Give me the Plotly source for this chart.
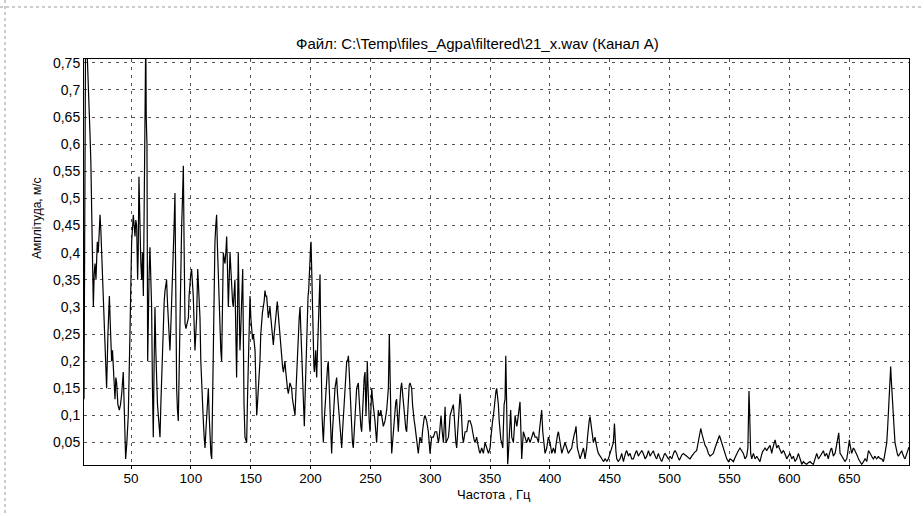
import plotly.graph_objects as go

# ---------------- data ----------------
title_text = "Файл: C:\\Temp\\files_Agpa\\filtered\\21_x.wav (Канал A)"
x_title = "Частота , Гц"
y_title = "Амплітуда, м/с"

x_tick_vals = [50, 100, 150, 200, 250, 300, 350, 400, 450, 500, 550, 600, 650]
x_tick_text = ["50", "100", "150", "200", "250", "300", "350", "400", "450", "500", "550", "600", "650"]
y_tick_vals = [0.05, 0.1, 0.15, 0.2, 0.25, 0.3, 0.35, 0.4, 0.45, 0.5, 0.55, 0.6, 0.65, 0.7, 0.75]
y_tick_text = ["0,05", "0,1", "0,15", "0,2", "0,25", "0,3", "0,35", "0,4", "0,45", "0,5",
               "0,55", "0,6", "0,65", "0,7", "0,75"]

freq_low = [
    10.7, 11.3, 12.0, 13.0, 14.3, 15.0, 15.7, 16.4, 17.1, 17.8,
    18.5, 19.2, 19.9, 20.7, 21.8, 22.6, 23.5, 24.1, 24.8, 25.5,
    26.2, 26.8, 27.7, 28.8, 29.6, 30.7, 31.9, 32.8, 33.8, 34.5,
    35.2, 36.6, 37.3, 38.0, 39.0, 40.2, 41.2, 42.2, 43.5, 44.3,
    44.9, 45.5, 46.5, 47.7, 49.1, 50.5, 51.9, 52.6, 53.3, 54.0,
    54.7, 55.5, 56.0, 56.6, 57.5, 58.2, 58.9, 59.6, 60.3, 61.0,
    61.7, 62.3, 62.7, 63.3, 63.9, 64.4, 65.1, 65.8, 66.5, 67.2,
    67.9, 68.6, 69.3, 70.0, 70.7, 71.4, 72.1, 72.8, 73.5, 74.2,
    74.9, 75.6, 76.3, 77.0, 77.7, 78.4, 79.0, 79.7, 80.4, 81.1,
    81.8, 82.5, 83.2, 83.9, 84.6, 85.3, 86.0, 86.7, 87.4, 88.1,
    88.8, 89.5, 90.2, 90.9, 91.6, 92.3, 93.0, 93.7, 94.4, 95.1,
    95.9, 96.9, 97.9, 98.5, 99.2, 99.9, 100.6, 101.3, 102.0, 102.7,
    103.4, 104.1, 104.8, 105.7, 106.6, 107.6, 108.3, 109.0, 109.7, 110.4,
    111.1, 111.8, 112.5, 113.2, 113.9, 114.6, 115.3, 116.0, 116.7, 117.4,
    118.0, 118.7, 119.4, 120.1, 120.8, 121.5, 122.2, 122.9, 123.6, 124.3,
    125.0, 125.7, 126.4, 127.1, 127.8, 128.5, 129.2, 129.9, 130.6, 131.3,
    132.0, 132.7, 133.4, 134.1, 134.8, 135.4, 136.1, 136.8, 137.5, 138.2,
    138.9, 139.6, 140.3, 141.0, 141.7, 142.4, 143.3, 144.4, 145.2, 145.9,
    146.6, 147.3, 148.0, 148.7, 149.4, 150.1, 150.8, 151.5, 152.2, 152.9,
    153.6, 154.3, 155.0, 155.6, 156.3, 157.0, 157.7, 158.4, 159.1, 159.8,
]
amp_low = [
    0.13, 0.50, 0.80, 0.79, 0.72, 0.68, 0.62, 0.57, 0.50, 0.40,
    0.30, 0.36, 0.38, 0.35, 0.42, 0.40, 0.45, 0.47, 0.44, 0.40,
    0.34, 0.30, 0.245, 0.20, 0.15, 0.25, 0.32, 0.26, 0.20, 0.22,
    0.19, 0.13, 0.17, 0.16, 0.12, 0.11, 0.12, 0.14, 0.18, 0.12,
    0.08, 0.02, 0.05, 0.10, 0.25, 0.42, 0.47, 0.44, 0.43, 0.46,
    0.45, 0.35, 0.40, 0.54, 0.42, 0.38, 0.35, 0.40, 0.32, 0.45,
    0.60, 0.80, 0.65, 0.60, 0.20, 0.30, 0.36, 0.41, 0.35, 0.30,
    0.15, 0.06, 0.20, 0.30, 0.22, 0.15, 0.12, 0.10, 0.08, 0.06,
    0.12, 0.18, 0.24, 0.28, 0.31, 0.33, 0.34, 0.35, 0.31, 0.28,
    0.24, 0.22, 0.26, 0.30, 0.34, 0.38, 0.45, 0.51, 0.30, 0.15,
    0.11, 0.09, 0.18, 0.30, 0.38, 0.45, 0.50, 0.56, 0.40, 0.27,
    0.26, 0.27, 0.28, 0.32, 0.35, 0.36, 0.37, 0.35, 0.32, 0.27,
    0.22, 0.25, 0.28, 0.37, 0.33, 0.28, 0.20, 0.15, 0.12, 0.09,
    0.06, 0.04, 0.07, 0.10, 0.13, 0.15, 0.10, 0.05, 0.03, 0.02,
    0.12, 0.25, 0.34, 0.42, 0.45, 0.47, 0.41, 0.35, 0.30, 0.25,
    0.22, 0.20, 0.30, 0.40, 0.39, 0.38, 0.40, 0.43, 0.37, 0.30,
    0.35, 0.40, 0.37, 0.33, 0.31, 0.30, 0.32, 0.35, 0.26, 0.17,
    0.28, 0.40, 0.31, 0.22, 0.26, 0.30, 0.37, 0.12, 0.06, 0.055,
    0.05, 0.13, 0.22, 0.27, 0.32, 0.28, 0.25, 0.24, 0.25, 0.23,
    0.22, 0.16, 0.10, 0.12, 0.15, 0.16, 0.20, 0.25, 0.28, 0.29,
]

freq_mid = [
    160.5, 161.2, 161.9, 162.6, 163.3, 164.0, 164.7, 165.4, 166.1, 166.8,
    167.5, 168.2, 168.9, 169.6, 170.3, 171.2, 172.2, 172.9, 173.6, 174.3,
    175.0, 175.9, 176.6, 177.3, 178.0, 178.6, 179.3, 180.0, 180.7, 181.4,
    182.1, 182.8, 183.5, 184.2, 184.9, 185.6, 186.3, 187.0, 187.7, 188.4,
    189.1, 189.8, 190.5, 191.2, 191.9, 192.6, 193.3, 194.0, 194.8, 195.5,
    196.2, 196.8, 197.3, 197.9, 198.4, 199.0, 199.5, 200.0, 200.4, 200.8,
    201.2, 201.8, 202.3, 202.8, 203.2, 203.8, 204.3, 204.7, 205.1, 205.8,
    206.5, 207.2, 207.9, 208.3, 208.7, 209.2, 209.6, 210.2, 210.7, 211.4,
    212.1, 212.8, 213.5, 214.2, 214.8, 215.3, 215.7, 216.2, 216.8, 217.2,
    217.6, 218.3, 219.0, 219.7, 220.4, 221.1, 221.8, 222.5, 223.2, 223.9,
    224.6, 225.3, 226.0, 226.7, 227.4, 228.1, 228.8, 229.5, 230.2, 230.9,
    231.6, 232.3, 233.0, 233.7, 234.3, 235.0, 235.7, 236.4, 237.1, 237.8,
    238.5, 239.2, 239.9, 240.6, 241.3, 242.0, 242.7, 243.4, 244.1, 244.8,
    245.5, 246.3, 246.9, 247.4, 247.9, 248.3, 249.0, 249.7, 250.4, 251.1,
    251.8, 252.4, 253.1, 253.8, 254.5, 255.2, 255.9, 256.6, 257.3, 258.0,
    258.7, 259.4, 260.1, 260.8, 261.5, 262.2, 262.9, 263.6, 264.3, 265.0,
    265.8, 266.4, 266.9, 267.4, 267.8, 268.5, 269.2, 269.9, 270.5, 271.2,
    271.9, 272.6, 273.3, 274.0, 274.7, 275.4, 276.1, 276.8, 277.5, 278.2,
    278.9, 279.6, 280.3, 281.0, 281.7, 282.4, 283.1, 283.8, 284.5, 285.2,
    285.9, 286.6, 287.3, 288.0, 288.7, 289.4, 290.0, 290.7, 291.4, 292.1,
    292.8, 293.5, 294.2, 294.9, 295.6, 296.3, 297.0, 297.7, 298.4, 299.1,
    299.8, 300.5, 301.2, 302.6, 303.3, 304.0, 305.4, 306.1, 306.8, 307.5,
]
amp_mid = [
    0.30, 0.31, 0.33, 0.32, 0.32, 0.30, 0.28, 0.29, 0.30, 0.28,
    0.26, 0.25, 0.23, 0.25, 0.27, 0.29, 0.31, 0.29, 0.27, 0.25,
    0.24, 0.20, 0.19, 0.18, 0.19, 0.20, 0.18, 0.16, 0.15, 0.14,
    0.15, 0.16, 0.155, 0.15, 0.13, 0.12, 0.11, 0.10, 0.14, 0.18,
    0.22, 0.25, 0.28, 0.30, 0.25, 0.20, 0.15, 0.12, 0.08, 0.14,
    0.20, 0.26, 0.30, 0.32, 0.33, 0.37, 0.40, 0.41, 0.42, 0.37,
    0.32, 0.25, 0.20, 0.19, 0.18, 0.20, 0.22, 0.19, 0.17, 0.22,
    0.28, 0.32, 0.36, 0.28, 0.20, 0.15, 0.10, 0.07, 0.05, 0.09,
    0.12, 0.15, 0.18, 0.19, 0.20, 0.17, 0.15, 0.11, 0.08, 0.05,
    0.03, 0.07, 0.10, 0.13, 0.15, 0.16, 0.17, 0.14, 0.12, 0.09,
    0.07, 0.05, 0.04, 0.07, 0.10, 0.13, 0.15, 0.18, 0.20, 0.20,
    0.21, 0.18, 0.15, 0.10, 0.07, 0.05, 0.04, 0.07, 0.10, 0.13,
    0.15, 0.155, 0.16, 0.13, 0.10, 0.08, 0.07, 0.11, 0.15, 0.17,
    0.18, 0.10, 0.15, 0.20, 0.16, 0.12, 0.09, 0.07, 0.11, 0.15,
    0.13, 0.12, 0.10, 0.09, 0.07, 0.05, 0.08, 0.11, 0.10, 0.10,
    0.11, 0.10, 0.09, 0.08, 0.085, 0.09, 0.10, 0.11, 0.13, 0.15,
    0.25, 0.15, 0.10, 0.06, 0.03, 0.05, 0.07, 0.10, 0.12, 0.125,
    0.13, 0.10, 0.07, 0.10, 0.14, 0.15, 0.16, 0.14, 0.12, 0.10,
    0.08, 0.075, 0.07, 0.11, 0.15, 0.155, 0.16, 0.155, 0.15, 0.12,
    0.10, 0.09, 0.08, 0.065, 0.05, 0.04, 0.03, 0.045, 0.06, 0.055,
    0.05, 0.07, 0.09, 0.095, 0.10, 0.095, 0.09, 0.08, 0.07, 0.05,
    0.03, 0.045, 0.06, 0.06, 0.065, 0.07, 0.07, 0.06, 0.05, 0.06,
]

freq_high = [
    308.2, 309.0, 310.0, 311.0, 312.4, 313.2, 314.2, 315.2, 316.0, 316.6,
    317.9, 319.3, 320.0, 320.7, 321.4, 322.1, 322.8, 323.5, 324.2, 324.9,
    325.7, 326.3, 327.0, 327.7, 328.4, 329.1, 330.5, 331.2, 331.9, 333.3,
    334.0, 334.7, 335.4, 336.0, 336.7, 337.4, 338.1, 338.8, 339.5, 340.2,
    340.9, 341.6, 342.3, 343.0, 343.7, 344.4, 345.1, 345.8, 346.5, 347.2,
    347.9, 348.6, 349.3, 350.0, 350.7, 351.4, 352.1, 352.8, 353.5, 354.2,
    354.9, 355.5, 356.2, 356.9, 357.6, 358.3, 359.0, 359.7, 360.6, 361.7,
    362.5, 363.1, 363.9, 364.7, 365.3, 365.9, 366.6, 367.2, 368.1, 368.8,
    369.5, 370.2, 370.9, 371.6, 372.3, 373.0, 373.6, 374.3, 375.0, 375.9,
    376.4, 377.1, 377.8, 378.5, 379.2, 379.9, 380.6, 381.3, 382.0, 382.7,
    383.4, 384.1, 384.8, 385.5, 386.2, 386.9, 387.6, 389.0, 389.7, 390.4,
    391.1, 391.8, 392.5, 393.1, 394.0, 394.5, 395.1, 395.9, 396.6, 397.3,
    398.0, 398.7, 399.4, 400.1, 400.8, 401.5, 402.2, 402.9, 403.6, 404.3,
    405.0, 405.7, 406.4, 407.1, 407.8, 408.5, 409.2, 409.9, 410.5, 411.2,
    411.9, 412.6, 413.3, 414.0, 414.7, 415.4, 416.1, 416.8, 417.5, 418.2,
    418.9, 419.6, 420.3, 421.0, 421.8, 422.9, 423.8, 424.5, 425.2, 425.9,
    426.6, 427.3, 428.0, 428.7, 429.3, 430.0, 430.7, 431.4, 432.1, 432.8,
    433.5, 434.2, 434.9, 435.6, 436.3, 437.0, 437.7, 438.4, 439.1, 439.8,
    440.5, 441.2, 441.9, 442.6, 443.3, 444.0, 444.7, 445.4, 446.1, 446.8,
    447.5, 448.2, 448.8, 449.5, 450.2, 450.9, 451.6, 452.3, 453.0, 453.9,
    454.4, 455.1, 455.8, 456.5, 457.2, 457.9, 458.6, 459.3, 460.0, 460.7,
    461.4, 462.1, 462.8, 463.5, 464.2, 464.9, 465.6, 466.2, 466.9, 467.6,
    468.3, 469.7, 470.4, 471.1, 471.8, 472.5, 473.2, 473.9, 474.6, 475.3,
    476.0, 476.7, 477.4, 478.1, 478.8, 479.5, 480.2, 480.9, 481.6, 482.3,
    483.0, 483.7, 484.4, 485.0, 485.7, 486.4, 487.1, 487.8, 488.5, 489.2,
    489.9, 490.6, 491.3, 492.0, 492.7, 493.4, 494.1, 494.8, 495.5, 496.2,
    496.9, 497.6, 498.3, 499.0, 499.7, 500.4, 501.1, 501.8, 502.5, 503.1,
    503.8, 504.5, 505.2, 505.9, 506.6, 507.3, 508.0, 508.7, 510.1, 511.5,
]
amp_high = [
    0.08, 0.10, 0.07, 0.05, 0.116, 0.05, 0.055, 0.06, 0.08, 0.10,
    0.11, 0.12, 0.10, 0.07, 0.05, 0.04, 0.07, 0.10, 0.12, 0.14,
    0.12, 0.08, 0.06, 0.05, 0.06, 0.07, 0.07, 0.08, 0.09, 0.09,
    0.085, 0.08, 0.07, 0.06, 0.055, 0.05, 0.055, 0.06, 0.05, 0.04,
    0.035, 0.03, 0.035, 0.04, 0.035, 0.03, 0.04, 0.05, 0.045, 0.04,
    0.035, 0.03, 0.035, 0.04, 0.06, 0.08, 0.09, 0.10, 0.12, 0.14,
    0.145, 0.15, 0.135, 0.12, 0.09, 0.06, 0.055, 0.05, 0.04, 0.12,
    0.13, 0.21, 0.10, 0.01, 0.03, 0.05, 0.08, 0.11, 0.06, 0.055,
    0.05, 0.075, 0.10, 0.09, 0.08, 0.09, 0.10, 0.11, 0.125, 0.06,
    0.02, 0.045, 0.07, 0.065, 0.06, 0.055, 0.05, 0.055, 0.06, 0.055,
    0.05, 0.055, 0.06, 0.065, 0.07, 0.065, 0.06, 0.06, 0.055, 0.05,
    0.07, 0.09, 0.10, 0.11, 0.07, 0.055, 0.04, 0.03, 0.035, 0.04,
    0.05, 0.06, 0.055, 0.05, 0.04, 0.03, 0.035, 0.04, 0.035, 0.03,
    0.045, 0.06, 0.065, 0.07, 0.06, 0.05, 0.04, 0.03, 0.035, 0.04,
    0.045, 0.05, 0.045, 0.04, 0.035, 0.03, 0.033, 0.035, 0.038, 0.04,
    0.05, 0.06, 0.065, 0.07, 0.08, 0.04, 0.03, 0.025, 0.02, 0.025,
    0.03, 0.035, 0.04, 0.03, 0.02, 0.03, 0.04, 0.06, 0.08, 0.09,
    0.098, 0.085, 0.07, 0.06, 0.05, 0.055, 0.06, 0.05, 0.04, 0.035,
    0.03, 0.028, 0.025, 0.022, 0.02, 0.018, 0.015, 0.018, 0.02, 0.018,
    0.015, 0.018, 0.02, 0.025, 0.03, 0.035, 0.04, 0.045, 0.05, 0.085,
    0.05, 0.035, 0.02, 0.018, 0.015, 0.018, 0.02, 0.025, 0.03, 0.022,
    0.015, 0.022, 0.03, 0.033, 0.035, 0.03, 0.025, 0.028, 0.03, 0.025,
    0.02, 0.02, 0.025, 0.03, 0.033, 0.035, 0.03, 0.025, 0.028, 0.03,
    0.033, 0.035, 0.033, 0.03, 0.025, 0.02, 0.022, 0.025, 0.03, 0.035,
    0.03, 0.025, 0.028, 0.03, 0.033, 0.035, 0.03, 0.025, 0.022, 0.02,
    0.025, 0.03, 0.025, 0.02, 0.018, 0.015, 0.02, 0.025, 0.028, 0.03,
    0.028, 0.025, 0.022, 0.02, 0.022, 0.025, 0.022, 0.02, 0.025, 0.03,
    0.033, 0.035, 0.033, 0.03, 0.025, 0.02, 0.018, 0.02, 0.027, 0.03,
]

freq_tail = [
    512.9, 514.3, 515.7, 517.1, 518.5, 519.8, 521.2, 522.6, 523.3, 524.0,
    525.0, 526.0, 527.1, 528.2, 529.6, 531.0, 532.4, 533.8, 535.1, 536.5,
    537.9, 539.3, 540.5, 541.6, 542.5, 543.5, 544.9, 546.3, 547.7, 549.1,
    550.5, 551.9, 553.3, 554.6, 556.0, 557.4, 558.8, 560.2, 561.6, 563.0,
    564.4, 565.4, 565.8, 566.3, 566.8, 567.2, 567.7, 568.6, 569.3, 570.0,
    570.7, 571.4, 572.1, 572.8, 573.5, 574.1, 574.8, 575.5, 576.2, 576.9,
    577.6, 578.3, 579.0, 579.7, 580.4, 581.1, 581.8, 582.5, 583.2, 583.9,
    584.6, 585.3, 586.0, 586.7, 587.4, 588.1, 588.8, 589.5, 590.2, 590.9,
    591.6, 592.3, 593.0, 593.6, 594.3, 595.0, 595.7, 596.4, 597.1, 597.8,
    599.2, 600.6, 601.3, 602.0, 602.7, 603.4, 604.1, 604.8, 605.5, 606.2,
    606.9, 607.6, 608.3, 609.0, 609.7, 610.4, 611.1, 611.7, 613.1, 614.5,
    615.9, 617.3, 618.7, 620.1, 620.8, 621.5, 622.2, 622.9, 623.6, 624.3,
    625.0, 625.7, 626.4, 627.1, 627.8, 628.5, 629.1, 629.8, 630.5, 631.2,
    631.9, 632.6, 633.3, 634.0, 634.7, 635.4, 636.1, 636.8, 637.5, 638.2,
    638.9, 639.6, 640.5, 641.3, 641.8, 642.4, 643.1, 643.8, 644.5, 645.2,
    645.9, 646.6, 647.3, 648.0, 648.7, 649.3, 650.2, 650.8, 651.3, 652.1,
    652.8, 653.5, 654.2, 654.9, 655.6, 656.3, 657.0, 657.7, 658.4, 659.1,
    659.8, 660.5, 661.2, 661.9, 662.6, 663.3, 664.0, 664.7, 665.4, 666.1,
    666.8, 667.4, 668.1, 668.8, 669.5, 670.2, 670.9, 671.6, 672.3, 673.0,
    673.7, 674.4, 675.1, 675.8, 676.5, 677.2, 677.9, 678.6, 679.3, 680.0,
    680.7, 681.4, 682.1, 682.8, 683.6, 684.2, 684.7, 685.1, 685.5, 686.2,
    686.9, 687.6, 688.3, 689.0, 689.7, 690.4, 691.1, 691.8, 692.5, 693.2,
    693.9, 694.6, 695.3, 696.0, 696.7, 697.4, 698.1, 698.8, 699.2, 700.0,
]
amp_tail = [
    0.028, 0.025, 0.022, 0.02, 0.025, 0.03, 0.033, 0.035, 0.045, 0.055,
    0.065, 0.076, 0.065, 0.055, 0.045, 0.04, 0.03, 0.025, 0.028, 0.03,
    0.04, 0.05, 0.058, 0.063, 0.057, 0.05, 0.04, 0.03, 0.02, 0.015,
    0.02, 0.018, 0.015, 0.022, 0.03, 0.035, 0.04, 0.035, 0.03, 0.02,
    0.025, 0.04, 0.07, 0.145, 0.11, 0.08, 0.03, 0.02, 0.025, 0.03,
    0.025, 0.02, 0.022, 0.025, 0.022, 0.02, 0.018, 0.015, 0.022, 0.03,
    0.033, 0.035, 0.038, 0.04, 0.038, 0.035, 0.038, 0.04, 0.043, 0.045,
    0.038, 0.03, 0.038, 0.045, 0.05, 0.055, 0.048, 0.04, 0.043, 0.045,
    0.04, 0.035, 0.033, 0.03, 0.033, 0.035, 0.033, 0.03, 0.025, 0.02,
    0.025, 0.03, 0.025, 0.02, 0.022, 0.025, 0.02, 0.015, 0.018, 0.02,
    0.025, 0.03, 0.025, 0.02, 0.015, 0.01, 0.012, 0.015, 0.012, 0.01,
    0.013, 0.015, 0.012, 0.01, 0.015, 0.02, 0.025, 0.03, 0.025, 0.02,
    0.022, 0.025, 0.028, 0.03, 0.033, 0.035, 0.03, 0.025, 0.028, 0.03,
    0.025, 0.02, 0.028, 0.035, 0.038, 0.04, 0.033, 0.025, 0.028, 0.03,
    0.038, 0.045, 0.058, 0.068, 0.05, 0.03, 0.028, 0.025, 0.022, 0.02,
    0.018, 0.015, 0.018, 0.02, 0.03, 0.04, 0.055, 0.045, 0.035, 0.03,
    0.035, 0.04, 0.038, 0.035, 0.033, 0.03, 0.025, 0.02, 0.018, 0.015,
    0.012, 0.01, 0.012, 0.015, 0.018, 0.02, 0.018, 0.015, 0.025, 0.035,
    0.033, 0.03, 0.028, 0.025, 0.022, 0.02, 0.022, 0.025, 0.022, 0.02,
    0.022, 0.025, 0.022, 0.02, 0.02, 0.02, 0.018, 0.015, 0.022, 0.03,
    0.04, 0.05, 0.075, 0.10, 0.15, 0.17, 0.19, 0.17, 0.15, 0.125,
    0.10, 0.075, 0.05, 0.04, 0.03, 0.028, 0.025, 0.028, 0.03, 0.033,
    0.035, 0.03, 0.025, 0.022, 0.02, 0.025, 0.03, 0.035, 0.04, 0.042,
]

x_range = [10.7, 700.0]
y_range = [0.0087, 0.757]

# ---------------- figure ----------------
freq = freq_low + freq_mid + freq_high + freq_tail
amp = amp_low + amp_mid + amp_high + amp_tail
assert len(freq) == len(amp)

fig = go.Figure(
    go.Scatter(x=freq, y=amp, mode="lines",
               line=dict(color="black", width=1.2),
               hoverinfo="skip", showlegend=False)
)

FONT = "Liberation Sans, Arial, sans-serif"
grid = dict(showgrid=True, gridcolor="#555555", gridwidth=1, griddash="3px,5px",
            showline=True, mirror=True, linecolor="black", linewidth=1,
            zeroline=False, tickcolor="black")

fig.update_xaxes(range=x_range, tickmode="array", tickvals=x_tick_vals, ticktext=x_tick_text,
                 ticks="outside", ticklen=3, ticklabelstandoff=-2,
                 tickfont=dict(family=FONT, size=13.5, color="black"),
                 **grid)
fig.update_yaxes(range=y_range, tickmode="array", tickvals=y_tick_vals, ticktext=y_tick_text,
                 ticks="", tickfont=dict(family=FONT, size=14, color="black"),
                 **grid)

PL, PR, PT, PB = 84, 909, 59, 465
W, H = 924, 516

def px_x(px):
    return (px - PL) / (PR - PL)

def px_y(py):
    return (PB - py) / (PB - PT)

fig.update_layout(
    width=W, height=H, autosize=False,
    margin=dict(l=PL, r=W - PR, t=PT, b=H - PB, pad=0),
    paper_bgcolor="white", plot_bgcolor="white",
    font=dict(family=FONT, color="black"),
    shapes=[
        dict(type="line", xref="paper", yref="paper", x0=px_x(0), x1=px_x(924),
             y0=px_y(7), y1=px_y(7), line=dict(color="#9a9a9a", width=1, dash="dot")),
        dict(type="line", xref="paper", yref="paper", x0=px_x(5), x1=px_x(5),
             y0=px_y(0), y1=px_y(516), line=dict(color="#9a9a9a", width=1, dash="dot")),
    ],
    annotations=[
        dict(text=title_text, xref="paper", yref="paper", x=px_x(477), y=px_y(43),
             xanchor="center", yanchor="middle", showarrow=False,
             font=dict(family=FONT, size=15, color="black")),
        dict(text=x_title, xref="paper", yref="paper", x=px_x(494), y=px_y(494),
             xanchor="center", yanchor="middle", showarrow=False,
             font=dict(family=FONT, size=13, color="black")),
        dict(text=y_title, xref="paper", yref="paper", x=px_x(37), y=px_y(218),
             xanchor="center", yanchor="middle", showarrow=False, textangle=-90,
             font=dict(family=FONT, size=12, color="black")),
    ],
)

fig.write_html("out.html", config={"displayModeBar": False},
               post_script="document.body.style.margin='0';document.body.style.overflow='hidden';")
